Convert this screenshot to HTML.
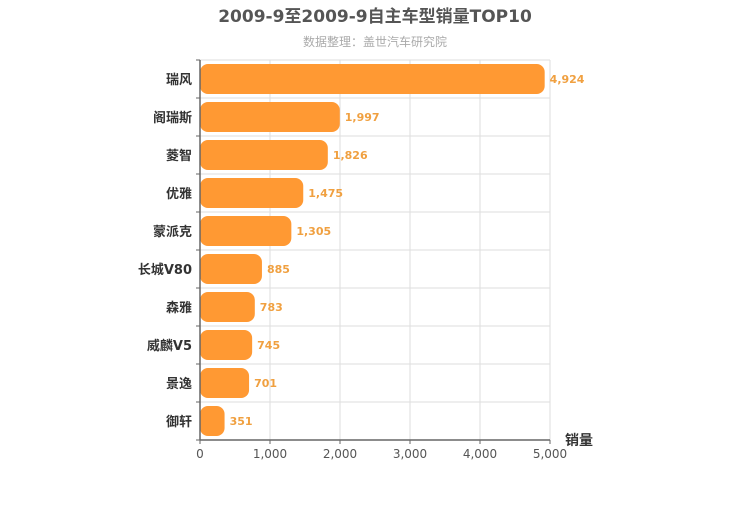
<!DOCTYPE html>
<html><head><meta charset="utf-8"><style>
body{margin:0;background:#fff;}
svg text{font-family:"DejaVu Sans","Noto Sans CJK SC",sans-serif;}
</style></head><body>
<svg width="750" height="500" xmlns="http://www.w3.org/2000/svg">
<text x="375" y="22" text-anchor="middle" font-size="17" font-weight="bold" fill="#555">2009-9至2009-9自主车型销量TOP10</text>
<text x="375" y="46" text-anchor="middle" font-size="12" fill="#aaa">数据整理：盖世汽车研究院</text>
<g id="grid"></g><g id="bars"></g><g id="axes"></g>
<text x="565" y="445" font-size="14" font-weight="bold" fill="#333">销量</text>
</svg>
<script>
const categories=["瑞风","阁瑞斯","菱智","优雅","蒙派克","长城V80","森雅","威麟V5","景逸","御轩"];
const values=[4924,1997,1826,1475,1305,885,783,745,701,351];
const ticks=[0,1000,2000,3000,4000,5000];
const NS="http://www.w3.org/2000/svg";
const x0=200,x1=550,yTop=60,yBottom=440,xmax=5000;
const rowH=(yBottom-yTop)/categories.length;
const xs=v=>x0+(x1-x0)*v/xmax;
function mk(t,a,p){const e=document.createElementNS(NS,t);for(const k in a)e.setAttribute(k,a[k]);p.appendChild(e);return e;}
const grid=document.getElementById('grid'),bars=document.getElementById('bars'),axes=document.getElementById('axes');
ticks.forEach(t=>{
 const l=mk('line',{x1:xs(t),x2:xs(t),y1:yTop,y2:yBottom,stroke:'#ddd'},grid);
 
 
 const tk=mk('line',{x1:xs(t),x2:xs(t),y1:yBottom,y2:yBottom+4,stroke:'#666'},axes);
 
 
 const tx=mk('text',{x:xs(t),y:yBottom+18,'text-anchor':'middle','font-size':'12',fill:'#555'},axes);
 tx.textContent=t.toLocaleString('en-US');
 
 
});
for(let i=0;i<=categories.length;i++){
 const y=yTop+i*rowH;
 const g=mk('line',{x1:x0,x2:x1,y1:y,y2:y,stroke:'#ddd'},grid);
 
 
 const tk=mk('line',{x1:x0-4,x2:x0,y1:y,y2:y,stroke:'#666'},axes);
 
 
}
categories.forEach((c,i)=>{
 const cy=yTop+(i+0.5)*rowH;
 const r=mk('rect',{x:x0,y:cy-15,width:xs(values[i])-x0,height:30,rx:8,ry:8,fill:'#ff9933'},bars);
 
 
 const v=mk('text',{x:xs(values[i])+5,y:cy+4,'font-size':'11','font-weight':'bold',fill:'#f0a040'},bars);
 v.textContent=values[i].toLocaleString('en-US');
 
 
 const l=mk('text',{x:x0-8,y:cy+5,'text-anchor':'end','font-size':'13','font-weight':'bold',fill:'#333'},axes);
 l.textContent=c;
 
 
});
const ya=mk('line',{x1:x0,x2:x0,y1:yTop,y2:yBottom,stroke:'#666','stroke-width':1.5},axes);


const xa=mk('line',{x1:x0,x2:x1,y1:yBottom,y2:yBottom,stroke:'#666','stroke-width':1.5},axes);


</script>
</body></html>
